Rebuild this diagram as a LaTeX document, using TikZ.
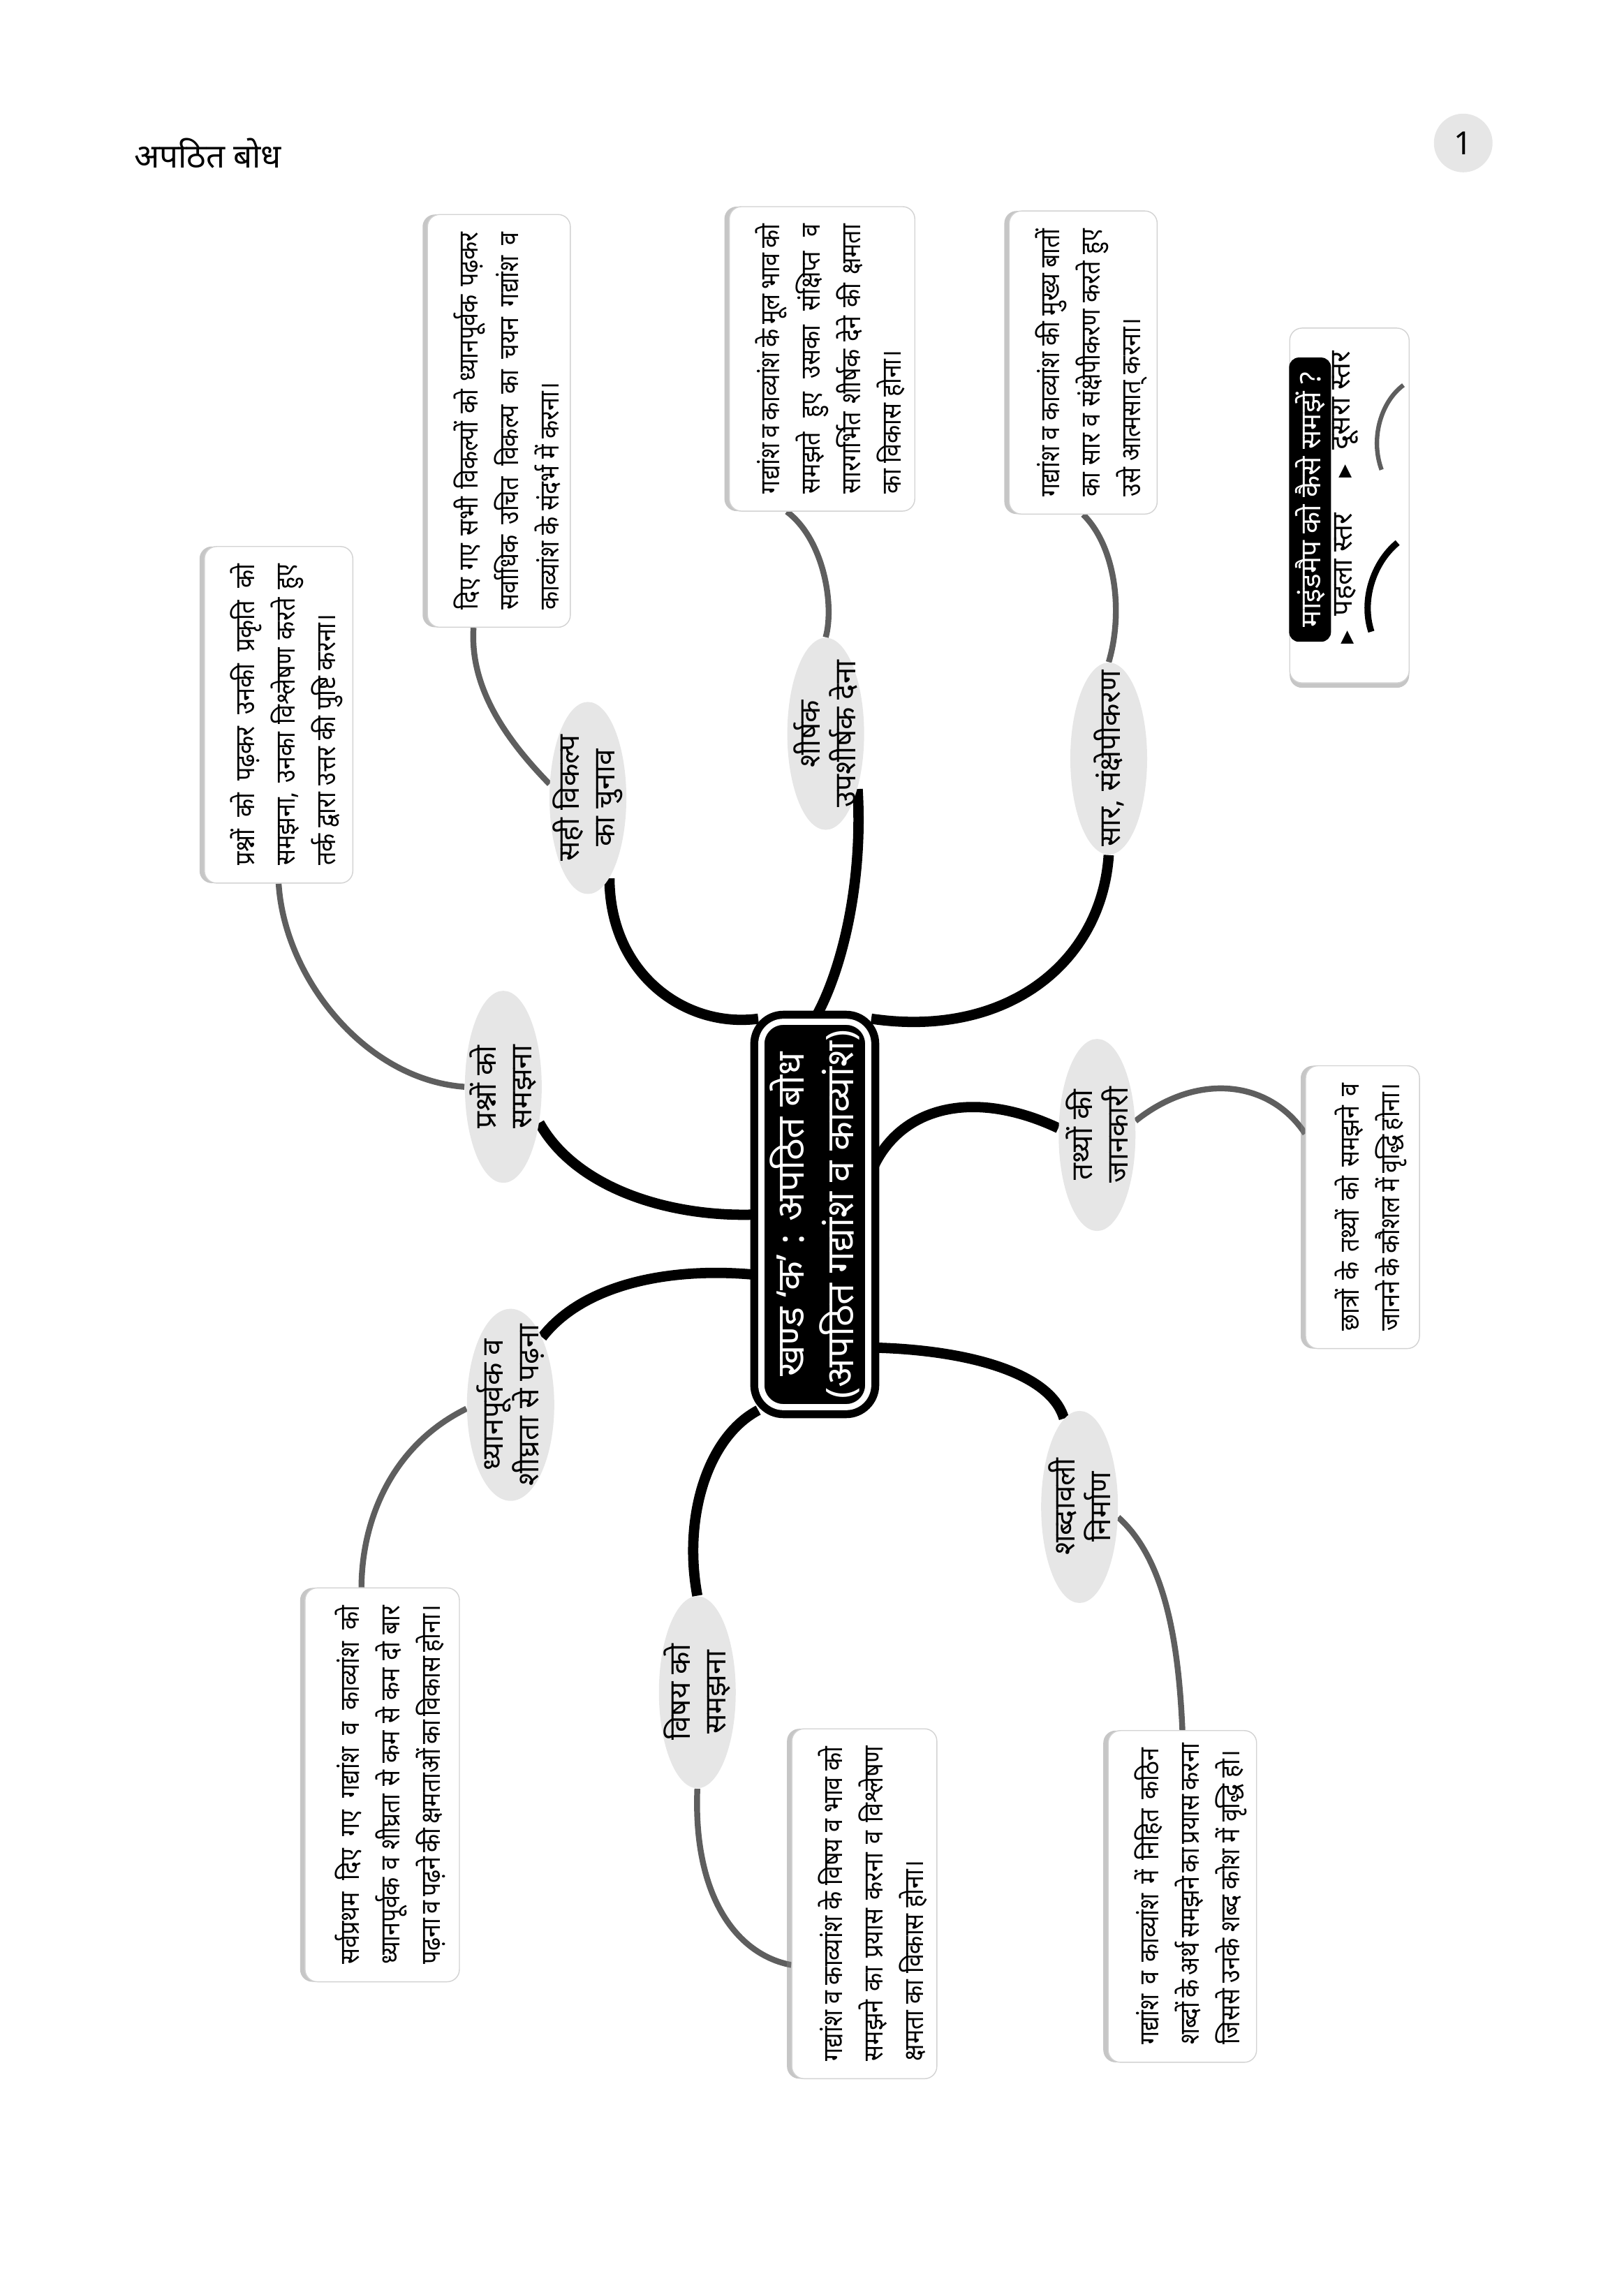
\documentclass[tikz,border=0pt]{standalone}
\usepackage{fontspec}
\setmainfont[Script=Devanagari]{Noto Sans}
\newfontfamily\boxfont[Script=Devanagari,FakeStretch=0.88]{Noto Sans}
\newfontfamily\symfont{DejaVu Sans}
\usetikzlibrary{shapes.geometric,shadows,backgrounds}
\definecolor{bubblegray}{HTML}{E6E6E6}
\definecolor{linkgray}{HTML}{5E5E5E}
\newcommand\jl[1]{\par\noindent\hbox to\hsize{#1}\par}
\tikzset{
    mainbox/.style={rotate=90, rounded corners=9pt, fill=black, draw=white, line width=2.5pt,
        preaction={draw=black, line width=9pt}, text=white, align=center,
        font=\fontsize{15.5}{20}\selectfont\bfseries, minimum width=5.43cm, minimum height=1.53cm},
    bubble/.style={rotate=90, ellipse, fill=bubblegray, inner sep=-0.6cm, align=center,
        minimum width=2.75cm, minimum height=1.1cm, font=\fontsize{12}{14.5}\selectfont\bfseries},
    infobox/.style={rotate=90, rectangle, rounded corners=5pt, fill=white, draw=gray!35,
        line width=0.4pt, drop shadow={shadow xshift=-2pt, shadow yshift=0pt, opacity=0.45},
        align=justify, inner xsep=0.25cm, inner ysep=4pt, font=\boxfont\fontsize{11}{16.5}\selectfont},
    legendbar/.style={rotate=90, rounded corners=4pt, fill=black, text=white, inner sep=0pt,
        minimum width=4.07cm, minimum height=0.6cm, font=\fontsize{11.5}{13}\selectfont\bfseries},
    legenditem/.style={rotate=90, inner sep=0pt, anchor=west, font=\fontsize{11.5}{13}\selectfont},
    levelone/.style={line width=4.2pt, black},
    leveltwo/.style={line width=2.4pt, linkgray}
}
\begin{document}
\begin{tikzpicture}[x=0.020889cm, y=-0.020889cm]
\useasboundingbox (0,0) rectangle (1113,1565);
\node[anchor=west, font=\fontsize{13.5}{16}\selectfont\bfseries] (ttl) at (86,105) {अपठित बोध};
\node[circle, fill=bubblegray, minimum size=0.84cm, font=\fontsize{13}{15}\selectfont\bfseries] (pg) at (1003,98) {1};

% centre
\node[mainbox] (kb) at (558.5,832.5) {खण्ड ‘क’ : अपठित बोध\\(अपठित गद्यांश व काव्यांश)};

% first level
\node[bubble] (sv) at (403,547) {सही विकल्प\\का चुनाव};
\node[bubble] (sh) at (566,503) {शीर्षक\\उपशीर्षक देना};
\node[bubble] (sr) at (760,520) {सार, संक्षेपीकरण};
\node[bubble] (pr) at (345,745) {प्रश्नों को\\समझना};
\node[bubble] (tt) at (752,778) {तथ्यों की\\जानकारी};
\node[bubble, minimum height=1.25cm] (dh) at (350,963) {ध्यानपूर्वक व\\शीघ्रता से पढ़ना};
\node[bubble] (sb) at (740,1033) {शब्दावली\\निर्माण};
\node[bubble] (vs) at (478,1160) {विषय को\\समझना};

% second level
\node[infobox, text width=5.41cm, minimum height=1.92cm] (bxa) at (342,288.5)
    {\jl{दिए गए सभी विकल्पों को ध्यानपूर्वक पढ़कर}\jl{सर्वाधिक उचित विकल्प का चयन गद्यांश व}काव्यांश के संदर्भ में करना।};
\node[infobox, text width=3.86cm, minimum height=2.44cm] (bxb) at (563.5,246)
    {\jl{गद्यांश व काव्यांश के मूल भाव को}\jl{समझते हुए उसका संक्षिप्त व}\jl{सारगर्भित शीर्षक देने की क्षमता}का विकास होना।};
\node[infobox, text width=3.84cm, minimum height=1.98cm] (bxc) at (742.5,248.5)
    {\jl{गद्यांश व काव्यांश की मुख्य बातों}\jl{का सार व संक्षेपीकरण करते हुए}उसे आत्मसात् करना।};
\node[infobox, text width=4.32cm, minimum height=2.09cm] (bxd) at (191,490)
    {\jl{प्रश्नों को पढ़कर उनकी प्रकृति को}\jl{समझना, उनका विश्लेषण करते हुए}तर्क द्वारा उत्तर की पुष्टि करना।};
\node[infobox, text width=3.55cm, minimum height=1.63cm] (bxe) at (934,827.5)
    {\jl{छात्रों के तथ्यों को समझने व}\jl{जानने के कौशल में वृद्धि होना।}};
\node[infobox, text width=5.14cm, minimum height=2.21cm] (bxf) at (262,1223.5)
    {\jl{सर्वप्रथम दिए गए गद्यांश व काव्यांश को}\jl{ध्यानपूर्वक व शीघ्रता से कम से कम दो बार}\jl{पढ़ना व पढ़ने की क्षमताओं का विकास होना।}};
\node[infobox, text width=4.51cm, minimum height=1.98cm] (bxg) at (592.5,1305)
    {\jl{गद्यांश व काव्यांश के विषय व भाव को}\jl{समझने का प्रयास करना व विश्लेषण}क्षमता का विकास होना।};
\node[infobox, text width=4.25cm, minimum height=1.98cm] (bxh) at (810.5,1300)
    {\jl{गद्यांश व काव्यांश में निहित कठिन}\jl{शब्दों के अर्थ समझने का प्रयास करना}जिससे उनके शब्द कोश में वृद्धि हो।};

% legend
\node[rectangle, rounded corners=5pt, fill=white, draw=gray!35, line width=0.4pt,
    drop shadow={shadow xshift=0pt, shadow yshift=-2pt, opacity=0.45},
    minimum width=1.71cm, minimum height=5.08cm] (lg) at (925,346.5) {};
\node[legendbar] (lgt) at (898,342.5) {माइंडमैप को कैसे समझें ?};
\node[legenditem] (lv1) at (922,442) {{\symfont\fontsize{7}{9}\selectfont ▶}\ \ पहला स्तर};
\node[legenditem] (lv2) at (922,328) {{\symfont\fontsize{7}{9}\selectfont ▶}\ \ दूसरा स्तर};
\draw[line width=2.6pt, black] (940,433) .. controls (933,412) and (941,386) .. (958,372);
\draw[line width=1.8pt, linkgray] (947,322) .. controls (939,300) and (947,275) .. (962,264);

\begin{scope}[on background layer]
\draw[levelone] (kb.north east) .. controls (470,705) and (418,668) .. (sv.195);
\draw[levelone] (kb.east) .. controls (575,670) and (592,610) .. (sh.210);
\draw[levelone] (kb.south east) .. controls (690,712) and (755,660) .. (sr.west);
\draw[levelone] (kb.north) .. controls (460,835) and (395,815) .. (pr.225);
\draw[levelone] (kb.307) .. controls (615,760) and (665,745) .. (tt.80);
\draw[levelone] (kb.137) .. controls (460,868) and (400,880) .. (dh.335);
\draw[levelone] (kb.203) .. controls (660,925) and (720,940) .. (sb.10);
\draw[levelone] (kb.north west) .. controls (485,985) and (468,1040) .. (vs.east);
\draw[leveltwo] (sv.70) .. controls (345,505) and (322,470) .. (bxa.173);
\draw[leveltwo] (sh.east) .. controls (572,415) and (565,370) .. (bxb.167);
\draw[leveltwo] (sr.east) .. controls (770,420) and (765,375) .. (bxc.west);
\draw[leveltwo] (pr.north) .. controls (250,740) and (195,670) .. (bxd.west);
\draw[leveltwo] (tt.290) .. controls (820,735) and (870,740) .. (bxe.38);
\draw[leveltwo] (dh.95) .. controls (270,990) and (248,1040) .. (bxf.6);
\draw[leveltwo] (sb.255) .. controls (800,1070) and (808,1130) .. (bxh.east);
\draw[leveltwo] (vs.west) .. controls (475,1300) and (505,1340) .. (bxg.130);
\end{scope}
\end{tikzpicture}
\end{document}
